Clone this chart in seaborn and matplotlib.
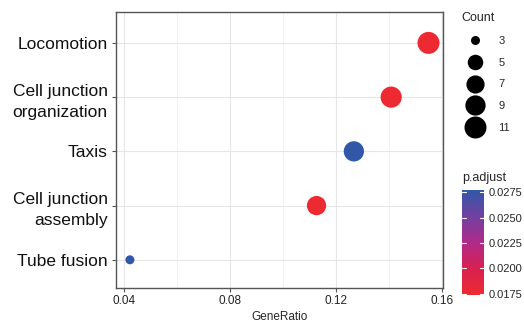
import numpy as np
import pandas as pd
import matplotlib
matplotlib.use("Agg")
import matplotlib.pyplot as plt
import seaborn as sns
from matplotlib.colors import LinearSegmentedColormap, Normalize
from matplotlib.lines import Line2D

# data
terms = ["Locomotion", "Cell junction\norganization", "Taxis",
         "Cell junction\nassembly", "Tube fusion"]
gene_ratio = [11/71, 10/71, 9/71, 8/71, 3/71]
counts = [11, 10, 9, 8, 3]
p_adjust = [0.0175, 0.0175, 0.0277, 0.0175, 0.0277]

legend_counts = [3, 5, 7, 9, 11]
cbar_ticks = [0.0175, 0.0200, 0.0225, 0.0250, 0.0275]

df = pd.DataFrame({"term": terms, "GeneRatio": gene_ratio,
                   "Count": counts, "p.adjust": p_adjust})

sns.set_style("white")
plt.rcParams["font.family"] = ["Liberation Sans", "DejaVu Sans"]

cmap = LinearSegmentedColormap.from_list(
    "padj", [(0, "#EE2A30"), (0.25, "#D8204F"), (0.5, "#B02A8A"),
             (0.75, "#7240A0"), (1, "#3158A8")])
norm = Normalize(0.0174, 0.0277)

# ggplot-like area scaling: diameter in px
def diam_px(c):
    return 9 + 13 * np.sqrt((c - 3) / 8)

def area_pt(c):
    d = diam_px(c) * 0.72
    return d * d

size_map = {c: area_pt(c) for c in counts}

fig = plt.figure(figsize=(5.24, 3.27), dpi=100)
ax = fig.add_axes([116/524, 39/327, 327/524, 276/327])

sns.scatterplot(data=df, x="GeneRatio", y="term", hue="p.adjust", size="Count",
                palette=cmap, hue_norm=norm, sizes=size_map, linewidth=0,
                legend=False, ax=ax, zorder=3)

ax.set_xlim(0.037, 0.1604)
ax.set_ylim(4.52, -0.57)
ax.set_xticks([0.04, 0.08, 0.12, 0.16])
ax.set_xticklabels(["0.04", "0.08", "0.12", "0.16"])
ax.set_xticks([0.06, 0.10, 0.14], minor=True)
ax.set_yticks(range(len(terms)))
ax.set_yticklabels(terms, fontsize=12.5, color="#111111",
                   multialignment="right", linespacing=1.5)
ax.grid(True, which="major", color="#E6E6E6", lw=0.8)
ax.grid(True, which="minor", axis="x", color="#EFEFEF", lw=0.6)
ax.set_axisbelow(True)
for s in ax.spines.values():
    s.set_color("#555555")
    s.set_linewidth(1.0)
ax.tick_params(axis="both", which="major", length=3, color="#555555",
               direction="out", bottom=True, left=True)
ax.tick_params(axis="x", which="minor", length=0)
ax.tick_params(axis="x", labelsize=8.5, labelcolor="#222222", pad=2)
ax.tick_params(axis="y", pad=3)
ax.set_xlabel("GeneRatio", fontsize=8.5, labelpad=3)
ax.set_ylabel("")

# size legend
handles = [Line2D([], [], marker="o", ls="", color="black",
                  markersize=diam_px(c) * 0.72, markeredgewidth=0)
           for c in legend_counts]
leg = fig.legend(handles, [str(c) for c in legend_counts], title="Count",
                 loc="upper left", bbox_to_anchor=(457/524, 1 - 8/327),
                 frameon=False, fontsize=8, title_fontsize=9,
                 labelspacing=1.05, handletextpad=0.9, borderaxespad=0,
                 handlelength=2.4)
leg._legend_box.align = "left"

# colour bar
cax = fig.add_axes([462/524, 32/327, 22/524, 105/327])
sm = plt.cm.ScalarMappable(cmap=cmap, norm=norm)
cb = fig.colorbar(sm, cax=cax, ticks=cbar_ticks)
cb.outline.set_visible(False)
cb.ax.set_yticklabels(["%.4f" % v for v in cbar_ticks])
cb.ax.tick_params(labelsize=8, length=0, pad=3)
for v in cbar_ticks:
    cax.plot([0, 0.18], [v, v], color="white", lw=0.8, transform=cax.get_yaxis_transform())
    cax.plot([0.82, 1], [v, v], color="white", lw=0.8, transform=cax.get_yaxis_transform())
fig.text(462/524, 1 - 178/327, "p.adjust", fontsize=9, va="center", ha="left")

fig.savefig("out.png", dpi=100)
